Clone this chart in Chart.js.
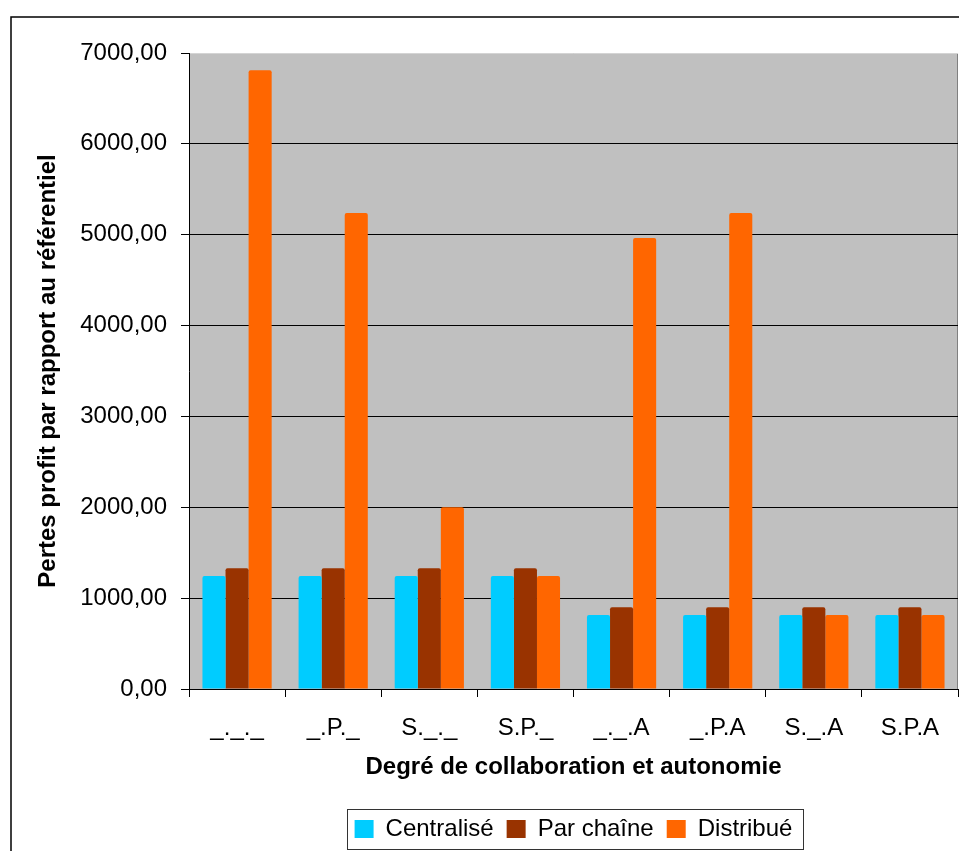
<!DOCTYPE html>
<html>
<head>
  <meta charset="utf-8">
  <title>Pertes profit</title>
  <script src="https://cdn.jsdelivr.net/npm/chart.js@4.4.1/dist/chart.umd.min.js"></script>
  <style>
    body { margin: 0; background: #fff; }
  </style>
</head>
<body>
  <canvas id="canvas" width="959" height="851"></canvas>
  <script>
    // categories on the x axis
    const categories = ['_._._', '_.P._', 'S._._', 'S.P._', '_._.A', '_.P.A', 'S._.A', 'S.P.A'];

    // values
    const centralise = [1245, 1245, 1245, 1245, 815, 815, 815, 815];
    const parChaine = [1330, 1330, 1330, 1330, 900, 900, 900, 900];
    const distribue = [6810, 5240, 2000, 1245, 4965, 5240, 815, 815];

    const yMin = 0;
    const yMax = 7000;
    const yStep = 1000;

    const FONT = 'Liberation Sans, Arial, sans-serif';
    Chart.defaults.color = '#000';
    Chart.defaults.font.family = FONT;

    // grey plot area + outer frame
    const frame = {
      id: 'frame',
      beforeDraw(chart) {
        const c = chart.ctx, a = chart.chartArea;
        c.save();
        c.fillStyle = '#fff';
        c.fillRect(0, 0, chart.width, chart.height);
        c.strokeStyle = '#000';
        c.lineWidth = 1.5;
        c.strokeRect(11, 17, chart.width + 20, chart.height + 20);
        c.fillStyle = '#c0c0c0';
        c.fillRect(a.left, a.top, a.right - a.left, a.bottom - a.top);
        c.strokeStyle = '#808080';
        c.lineWidth = 1;
        c.beginPath();
        c.moveTo(a.right - 0.5, a.top);
        c.lineTo(a.right - 0.5, a.bottom);
        c.stroke();
        c.strokeStyle = '#d4d4d4';
        c.beginPath();
        c.moveTo(a.left, a.top + 0.5);
        c.lineTo(a.right, a.top + 0.5);
        c.stroke();
        c.restore();
      },
      afterDraw(chart) {
        // box round the legend
        const lg = chart.legend;
        const hb = lg.legendHitBoxes;
        if (!hb || !hb.length) return;
        const first = hb[0], last = hb[hb.length - 1];
        const mid = first.top + first.height / 2;
        const c = chart.ctx;
        c.save();
        c.strokeStyle = '#333';
        c.lineWidth = 1;
        c.strokeRect(Math.round(first.left) - 7.5, Math.round(mid) - 19.5,
          Math.round(last.left + last.width - first.left) + 18, 40);
        c.restore();
      }
    };

    new Chart(document.getElementById('canvas'), {
      type: 'bar',
      data: {
        labels: categories,
        datasets: [
          { label: 'Centralisé', data: centralise, backgroundColor: '#00ccff' },
          { label: 'Par chaîne', data: parChaine, backgroundColor: '#993300' },
          { label: 'Distribué', data: distribue, backgroundColor: '#ff6600' }
        ]
      },
      options: {
        responsive: false,
        animation: false,
        layout: { padding: { top: 53, right: 1, left: 0, bottom: 0 } },
        datasets: {
          bar: { barPercentage: 1, categoryPercentage: 0.72, borderRadius: 2, borderSkipped: 'bottom' }
        },
        plugins: {
          tooltip: { enabled: false },
          legend: {
            position: 'bottom',
            fullSize: false,
            labels: {
              boxWidth: 19,
              boxHeight: 18,
              padding: 13,
              font: { size: 24, family: FONT }
            }
          }
        },
        scales: {
          x: {
            afterFit(s) { s.height = 115; },
            grid: {
              offset: true,
              drawOnChartArea: false,
              tickLength: 8,
              color: '#000'
            },
            border: { color: '#000', width: 1 },
            ticks: { padding: 17, font: { size: 24, family: FONT }, maxRotation: 0 },
            title: {
              display: true,
              text: 'Degré de collaboration et autonomie',
              font: { size: 24, weight: 'bold', family: FONT },
              padding: { top: 0, bottom: 22 }
            }
          },
          y: {
            min: yMin,
            max: yMax,
            afterFit(s) { s.width = 189; },
            grid: {
              tickLength: 8,
              color: (ctx) => ctx.tick && ctx.tick.value === yMax ? 'rgba(0,0,0,0)' : '#000',
              tickColor: '#000'
            },
            border: { color: '#000', width: 1 },
            ticks: {
              stepSize: yStep,
              padding: 14,
              font: { size: 24, family: FONT },
              callback: (v) => v.toFixed(2).replace('.', ',')
            },
            title: {
              display: true,
              text: 'Pertes profit par rapport au référentiel',
              font: { size: 24, weight: 'bold', family: FONT },
              padding: { top: 34, bottom: 0 }
            }
          }
        }
      },
      plugins: [frame]
    });
  </script>
</body>
</html>
